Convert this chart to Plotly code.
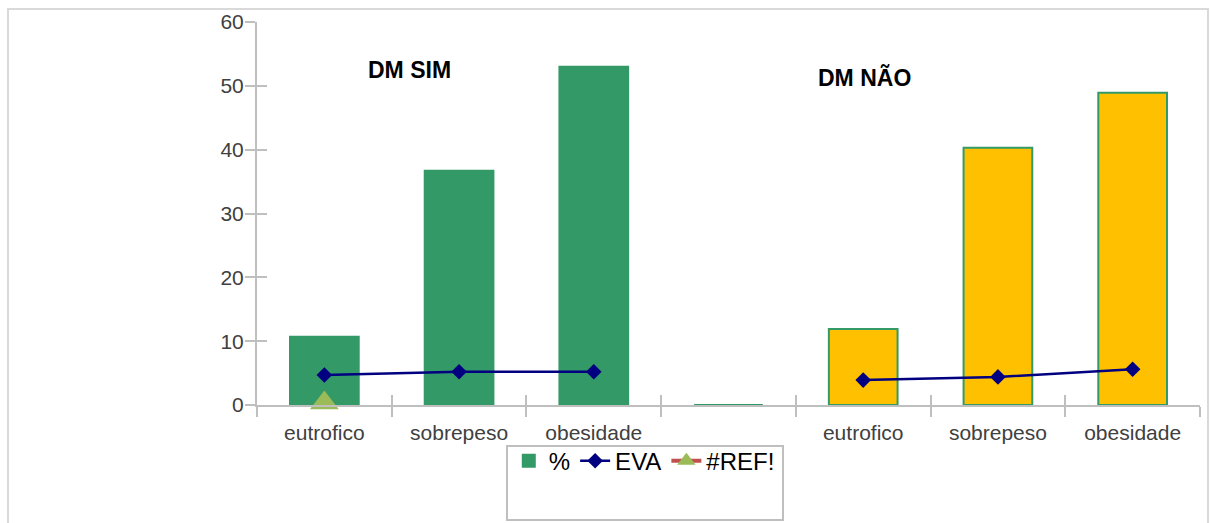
import plotly.graph_objects as go

categories = ["eutrofico", "sobrepeso", "obesidade", "", "eutrofico", "sobrepeso", "obesidade"]
pct_values = [10.7, 36.7, 53.0, 0.0, 11.9, 40.3, 48.9]
eva_values = [4.7, 5.2, 5.2, None, 3.9, 4.4, 5.6]
ref_values = [0.3, None, None, None, None, None, None]
group_labels = ["DM SIM", "DM NÃO"]
y_ticks = [0, 10, 20, 30, 40, 50, 60]

GREEN = "#339966"
YELLOW = "#FFC000"
NAVY = "#000080"
AXIS = "#BFBFBF"
FONT = "Liberation Sans, Arial, sans-serif"

xs = list(range(len(categories)))
bar_colors = [GREEN] * 4 + [YELLOW] * 3
bounds = [i + 0.5 for i in range(-1, len(categories))]
xr = [-0.5, len(categories) - 0.5]
yr = [0, 60]

fig = go.Figure()
fig.add_trace(go.Bar(x=xs, y=pct_values, name="%", width=0.51,
                     marker=dict(color=bar_colors, line=dict(color=GREEN, width=2))))
fig.add_trace(go.Scatter(x=xs, y=eva_values, name="EVA", mode="lines+markers",
                         line=dict(color=NAVY, width=2.5),
                         marker=dict(symbol="diamond", size=12, color=NAVY)))
fig.add_trace(go.Scatter(x=xs, y=ref_values, name="#REF!", mode="lines+markers",
                         line=dict(color="#C0504D", width=4), cliponaxis=False,
                         marker=dict(symbol="triangle-up", size=25, color="#9BBB59")))

# group labels
fig.add_annotation(x=0.63, y=52.5, text="<b>" + group_labels[0] + "</b>", showarrow=False,
                   font=dict(size=23, color="#000", family=FONT))
fig.add_annotation(x=4.01, y=51.3, text="<b>" + group_labels[1] + "</b>", showarrow=False,
                   font=dict(size=23, color="#000", family=FONT))

tickfont = dict(size=21, color="#404040", family=FONT)
fig.update_layout(
    width=1210, height=523,
    margin=dict(l=257, r=10, t=22, b=118),
    paper_bgcolor="white", plot_bgcolor="white",
    bargap=0.49,
    font=dict(family=FONT),
    showlegend=True,
    legend=dict(orientation="h", x=0.267, y=-0.088, xanchor="left", yanchor="top",
                font=dict(size=24, color="#000", family=FONT),
                bgcolor="rgba(0,0,0,0)", itemwidth=30, tracegroupgap=0),
    xaxis=dict(range=xr, tickmode="array", tickvals=bounds, ticks="outside", ticklen=10,
               tickcolor=AXIS, tickwidth=2, showticklabels=False, showline=True,
               linecolor=AXIS, linewidth=2, showgrid=False, zeroline=False),
    xaxis2=dict(range=xr, overlaying="x", anchor="y", side="bottom", tickmode="array",
                tickvals=bounds, ticks="inside", ticklen=10, tickcolor=AXIS, tickwidth=2,
                showticklabels=False, showline=False, showgrid=False, zeroline=False),
    xaxis3=dict(range=xr, overlaying="x", anchor="y", side="bottom", tickmode="array",
                tickvals=xs, ticktext=categories, ticks="", ticklabelstandoff=13,
                tickfont=tickfont, showline=False, showgrid=False, zeroline=False),
    yaxis=dict(range=yr, tickmode="array", tickvals=y_ticks, ticks="outside", ticklen=10,
               tickcolor=AXIS, tickwidth=2, tickfont=tickfont, showline=True,
               linecolor=AXIS, linewidth=2, showgrid=False, zeroline=False,
               ticklabelstandoff=-3),
    yaxis2=dict(range=yr, overlaying="y", anchor="x", side="left", tickmode="array",
                tickvals=y_ticks, ticks="inside", ticklen=10, tickcolor=AXIS, tickwidth=2,
                showticklabels=False, showline=False, showgrid=False, zeroline=False),
)
# dummy traces to activate the overlay axes
fig.add_trace(go.Scatter(x=[None], y=[None], xaxis="x2", yaxis="y2", showlegend=False, hoverinfo="skip"))
fig.add_trace(go.Scatter(x=[None], y=[None], xaxis="x3", yaxis="y", showlegend=False, hoverinfo="skip"))

# outer frame and legend box
W, H = 943, 383
def px(x): return (x - 257) / W
def py(y): return (405 - y) / H
fig.add_shape(type="rect", xref="paper", yref="paper", x0=px(8), x1=px(1208), y0=py(540), y1=py(9),
              line=dict(color="#D9D9D9", width=2), fillcolor="rgba(0,0,0,0)", layer="below")
fig.add_shape(type="rect", xref="paper", yref="paper", x0=px(507), x1=px(783), y0=py(520), y1=py(446),
              line=dict(color="#BFBFBF", width=2), fillcolor="rgba(0,0,0,0)", layer="below")

fig.write_html("out.html")
